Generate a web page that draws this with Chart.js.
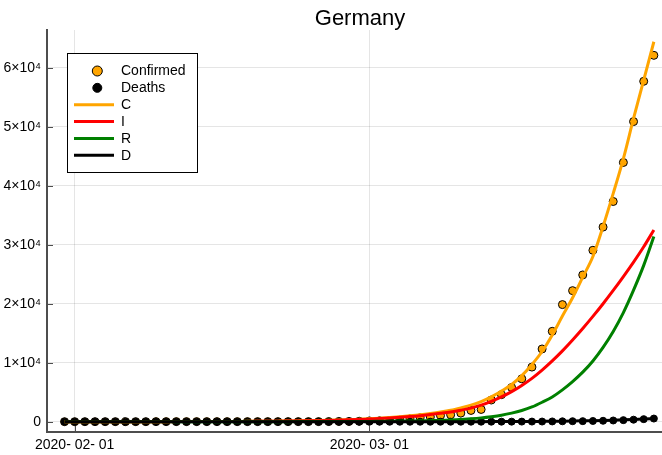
<!DOCTYPE html>
<html>
<head>
<meta charset="utf-8">
<script src="https://cdn.jsdelivr.net/npm/chart.js@4"></script>
<style>
  html, body { margin: 0; padding: 0; background: #fff; }
  canvas { display: block; }
</style>
</head>
<body>
<canvas id="germany_chart" width="662" height="455"></canvas>
<script>
// one value per day, day 0 = 2020-01-31 ... day 58 = 2020-03-29
const confirmed = [
  5, 8, 10, 12, 12, 12, 12, 13, 13, 14,
  14, 16, 16, 16, 16, 16, 16, 16, 16, 16,
  16, 16, 16, 16, 16, 17, 27, 46, 48, 79,
  130, 159, 196, 262, 482, 670, 799, 1040, 1176, 1457,
  1908, 2078, 3675, 4585, 5795, 7272, 9257, 12327, 15320, 19848,
  22213, 24873, 29056, 32986, 37323, 43938, 50871, 57695, 62095
];
const deaths = [
  0, 0, 0, 0, 0, 0, 0, 0, 0, 0,
  0, 0, 0, 0, 0, 0, 0, 0, 0, 0,
  0, 0, 0, 0, 0, 0, 0, 0, 0, 0,
  0, 0, 0, 0, 0, 0, 0, 0, 2, 2,
  3, 3, 7, 9, 11, 17, 24, 28, 44, 67,
  84, 94, 123, 157, 206, 267, 342, 433, 533
];

// fitted model curves
const model_C = [
  3, 3, 3, 4, 4, 5, 6, 8, 9, 11,
  13, 16, 19, 23, 27, 32, 39, 47, 56, 67,
  81, 97, 116, 140, 167, 201, 241, 289, 347, 417,
  500, 600, 710, 840, 1000, 1180, 1400, 1650, 1950, 2350,
  2800, 3400, 4200, 5200, 6300, 7800, 9700, 11900, 14700, 17900,
  21000, 24500, 28000, 33100, 38700, 44600, 51400, 57900, 64400
];
const model_I = [
  3, 3, 3, 4, 4, 5, 5, 7, 8, 10,
  12, 14, 17, 21, 24, 29, 35, 42, 50, 60,
  73, 87, 104, 126, 150, 180, 216, 259, 311, 374,
  450, 530, 630, 740, 870, 1020, 1210, 1420, 1650, 1950,
  2300, 2800, 3450, 4200, 5100, 6150, 7350, 8750, 10300, 12000,
  13850, 15800, 17850, 20000, 22250, 24600, 27050, 29650, 32500
];
const model_R = [
  0, 0, 0, 0, 0, 0, 1, 1, 1, 1,
  1, 1, 2, 2, 3, 3, 4, 5, 6, 7,
  8, 10, 12, 15, 18, 22, 27, 32, 38, 44,
  50, 65, 80, 100, 125, 150, 180, 220, 290, 380,
  500, 650, 850, 1100, 1450, 1900, 2500, 3300, 4200, 5400,
  6800, 8400, 10300, 12600, 15300, 18500, 22300, 26500, 31400
];
const model_D = [
  0, 0, 0, 0, 0, 0, 0, 0, 0, 0,
  0, 0, 0, 0, 0, 0, 0, 0, 0, 0,
  0, 0, 0, 0, 0, 0, 0, 0, 0, 0,
  0, 0, 0, 0, 1, 2, 3, 4, 5, 6,
  8, 11, 15, 19, 25, 32, 42, 55, 70, 90,
  115, 143, 175, 214, 260, 315, 380, 460, 550
];

const x_tick_days = [1, 30];
const x_tick_labels = ['2020- 02- 01', '2020- 03- 01'];
const y_ticks = [0, 10000, 20000, 30000, 40000, 50000, 60000];
const y_tick_labels = ['0', '1×10⁴', '2×10⁴', '3×10⁴', '4×10⁴', '5×10⁴', '6×10⁴'];

const FONT = "'Liberation Sans', Arial, Helvetica, sans-serif";
Chart.defaults.font.family = FONT;

function to_points(arr) {
  return arr.map((v, i) => ({x: i, y: v}));
}

function model_line(label, values, color, order) {
  return {
    label: label,
    data: to_points(values),
    showLine: true,
    pointRadius: 0,
    borderColor: color,
    backgroundColor: color,
    borderWidth: 3,
    cubicInterpolationMode: 'monotone',
    order: order
  };
}

// title, legend box and the inward tick marks
const germany_overlay = {
  id: 'germany_overlay',
  beforeDatasetsDraw(chart) {
    const ctx = chart.ctx;
    const area = chart.chartArea;
    const xs = chart.scales.x;
    const ys = chart.scales.y;
    ctx.save();
    ctx.strokeStyle = '#4d4d4d';
    ctx.lineWidth = 1;
    ctx.beginPath();
    y_ticks.forEach(v => {
      const py = Math.round(ys.getPixelForValue(v)) + 0.5;
      ctx.moveTo(area.left, py);
      ctx.lineTo(area.left + 6, py);
    });
    x_tick_days.forEach(v => {
      const px = Math.round(xs.getPixelForValue(v)) + 0.5;
      ctx.moveTo(px, area.bottom);
      ctx.lineTo(px, area.bottom - 6);
    });
    ctx.stroke();
    ctx.restore();
  },
  afterDraw(chart) {
    const ctx = chart.ctx;
    ctx.save();

    ctx.fillStyle = '#000';
    ctx.font = '22px ' + FONT;
    ctx.textAlign = 'center';
    ctx.textBaseline = 'alphabetic';
    ctx.fillText('Germany', 360, 25);

    ctx.fillStyle = '#fff';
    ctx.fillRect(67.5, 53.5, 130, 119);
    ctx.strokeStyle = '#000';
    ctx.lineWidth = 1;
    ctx.strokeRect(67.5, 53.5, 130, 119);

    ctx.font = '14px ' + FONT;
    ctx.textAlign = 'left';
    ctx.textBaseline = 'middle';
    chart.data.datasets.forEach((ds, i) => {
      const cy = 71 + i * 16.85;
      if (ds.showLine) {
        ctx.strokeStyle = ds.borderColor;
        ctx.lineWidth = 3;
        ctx.beginPath();
        ctx.moveTo(74, cy);
        ctx.lineTo(114, cy);
        ctx.stroke();
      } else {
        ctx.fillStyle = ds.backgroundColor;
        ctx.strokeStyle = '#000';
        ctx.lineWidth = 1;
        ctx.beginPath();
        ctx.arc(97.3, cy, i === 0 ? 5 : 4.5, 0, Math.PI * 2);
        ctx.fill();
        ctx.stroke();
      }
      ctx.fillStyle = '#000';
      ctx.fillText(ds.label, 121, cy + 0.5);
    });
    ctx.restore();
  }
};

const config = {
  type: 'scatter',
  data: {
    datasets: [
      {
        label: 'Confirmed',
        data: to_points(confirmed),
        showLine: false,
        pointRadius: 4,
        backgroundColor: '#FFA500',
        borderColor: '#000',
        borderWidth: 1,
        order: 6
      },
      {
        label: 'Deaths',
        data: to_points(deaths),
        showLine: false,
        pointRadius: 3.5,
        backgroundColor: '#000',
        borderColor: '#000',
        borderWidth: 1,
        order: 5
      },
      model_line('C', model_C, '#FFA500', 4),
      model_line('I', model_I, '#FF0000', 3),
      model_line('R', model_R, '#008000', 2),
      model_line('D', model_D, '#000000', 1)
    ]
  },
  options: {
    responsive: false,
    animation: false,
    events: [],
    layout: { autoPadding: false, padding: { top: 30, left: 0, right: 0, bottom: 0 } },
    plugins: {
      legend: { display: false },
      title: { display: false },
      tooltip: { enabled: false }
    },
    scales: {
      x: {
        type: 'linear',
        min: -1.726,
        max: 58.8,
        afterBuildTicks: scale => { scale.ticks = x_tick_days.map(v => ({value: v})); },
        afterFit: scale => { scale.height = 23; },
        ticks: {
          callback: (value, index) => x_tick_labels[index],
          font: { size: 14 },
          color: '#000',
          padding: 5,
          maxRotation: 0,
          autoSkip: false
        },
        grid: { color: 'rgba(0,0,0,0.1)', drawTicks: false },
        border: { color: '#4d4d4d', width: 2 }
      },
      y: {
        type: 'linear',
        min: -1745,
        max: 66390,
        afterBuildTicks: scale => { scale.ticks = y_ticks.map(v => ({value: v})); },
        afterFit: scale => { scale.width = 47; },
        ticks: {
          callback: (value, index) => y_tick_labels[index],
          font: { size: 14 },
          color: '#000',
          padding: 6,
          autoSkip: false
        },
        grid: { color: 'rgba(0,0,0,0.1)', drawTicks: false },
        border: { color: '#4d4d4d', width: 2 }
      }
    }
  },
  plugins: [germany_overlay]
};

const germany_chart = new Chart(
  document.getElementById('germany_chart'),
  config
);
</script>
</body>
</html>
